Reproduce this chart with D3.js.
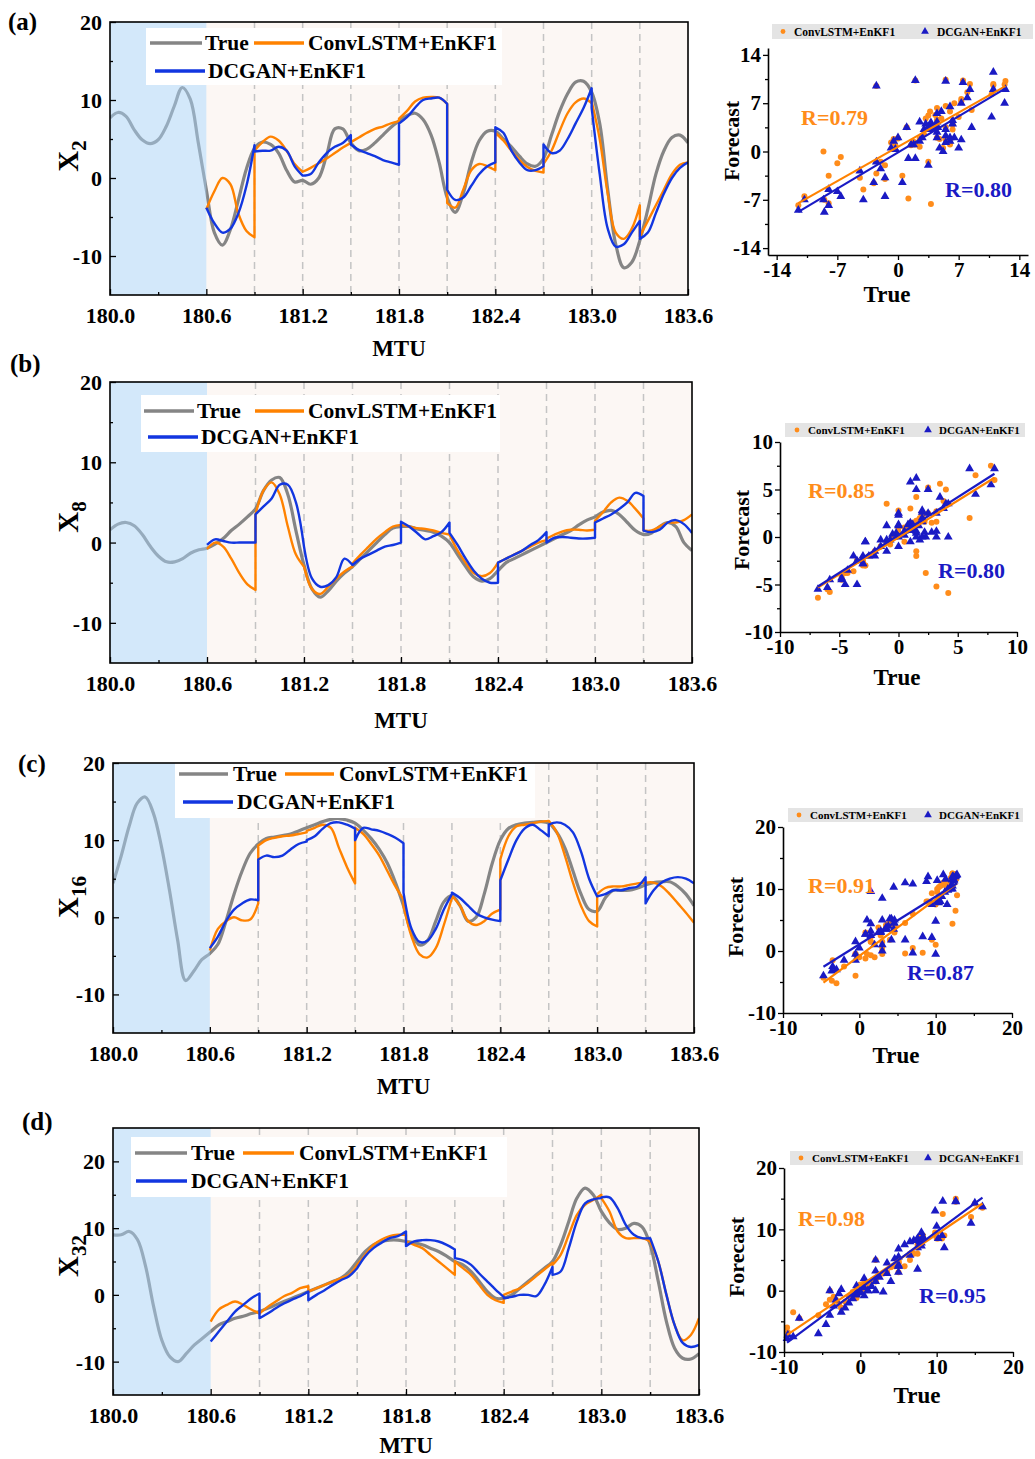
<!DOCTYPE html>
<html>
<head>
<meta charset="utf-8">
<title>Forecast comparison</title>
<script src="https://cdn.jsdelivr.net/npm/d3@7"></script>
<style>
  html, body { margin: 0; padding: 0; background: #fff; }
  svg { display: block; }
  text { font-family: "Liberation Serif", "Times New Roman", serif; font-weight: bold; }
</style>
</head>
<body>
<svg id="fig" width="1035" height="1459"></svg>
<script>
(function () {
  'use strict';

  /* ---------- Time grid ---------- */
  const T_START = 180.0, T_END = 183.6, DT = 0.05;
  const FC_START = 180.6, WIN = 0.3;
  const mtuTicks = [180.0, 180.6, 181.2, 181.8, 182.4, 183.0, 183.6];
  const mtuMinor = [180.3, 180.9, 181.5, 182.1, 182.7, 183.3];
  const assimTimes = [180.9, 181.2, 181.5, 181.8, 182.1, 182.4, 182.7, 183.0, 183.3];

  const seriesNames = ['True', 'ConvLSTM+EnKF1', 'DCGAN+EnKF1'];
  const panelTags = ['(a)', '(b)', '(c)', '(d)'];
  const varSubs = ['2', '8', '16', '32'];
  const rLabels = [['R=0.79', 'R=0.80'], ['R=0.85', 'R=0.80'], ['R=0.91', 'R=0.87'], ['R=0.98', 'R=0.95']];

  /* ---------- Data: true state, every 0.05 MTU from 180.0 ---------- */
  const trueX2 = [7.7, 8.4, 7.9, 6.2, 4.9, 4.4, 4.9, 6.6, 9.2, 11.6, 10.1, 4.5, -1.5,
    -7.0, -8.6, -6.6, -2.8, 1.2, 3.8,
    4.6, 4.3, 3.2, 1.0, -0.5, -0.3,
    -0.8, 0.0, 3.0, 6.3, 6.3, 4.5,
    3.5, 3.7, 4.5, 5.5, 6.5, 7.3,
    8.0, 8.3, 7.5, 5.5, 2.0, -2.5,
    -4.4, -2.0, 2.0, 4.8, 6.0, 6.0,
    5.0, 4.0, 2.8, 1.8, 1.5, 2.5,
    5.5, 8.5, 10.8, 12.3, 12.4, 11.0,
    7.0, -1.5, -8.5, -11.5, -10.8, -8.0,
    -4.0, 0.5, 3.5, 5.2, 5.5, 4.5];
  const trueX8 = [1.6, 2.3, 2.5, 2.1, 1.0, -0.5, -1.7, -2.4, -2.4, -2.0, -1.3, -0.9, -0.7,
    -0.2, 0.5, 1.5, 2.3, 3.2, 4.2,
    6.5, 7.8, 8.1, 6.0, 1.5, -2.8,
    -5.8, -6.8, -6.0, -4.8, -3.8, -3.0,
    -2.0, -1.0, 0.0, 1.0, 1.8, 2.0,
    2.0, 1.7, 1.5, 1.3, 0.8, 0.0,
    -1.5, -3.0, -4.3, -4.8, -4.5, -3.5,
    -2.5, -2.0, -1.5, -1.0, -0.5, 0.0,
    0.5, 1.0, 1.5, 2.2, 2.8, 3.2,
    3.8, 4.0, 3.5, 2.5, 1.5, 1.0,
    1.2, 2.0, 2.5, 2.0, 0.0, -1.0];
  const trueX16 = [4.4, 7.9, 11.8, 14.8, 15.6, 13.5, 9.2, 3.5, -2.9, -8.2, -7.0, -5.5, -4.7,
    -3.5, -0.5, 3.0, 6.0, 8.3, 9.5,
    10.2, 10.4, 10.6, 10.8, 11.2, 11.6,
    12.0, 12.4, 12.7, 12.8, 12.6, 12.2,
    11.3, 10.2, 8.8, 7.0, 4.5, 1.5,
    -2.0, -3.6, -3.0, -0.5, 2.0, 2.8,
    1.5, -0.5, 0.0, 3.0, 7.0, 10.0,
    11.5, 12.0, 12.2, 12.3, 12.4, 12.2,
    11.0, 9.0, 6.0, 3.0, 1.0, 0.8,
    2.5, 3.5, 3.5, 3.5, 3.8, 4.2,
    4.5, 4.6, 4.6, 4.0, 3.0, 1.5];
  const trueX32 = [9.0, 9.0, 9.5, 8.3, 4.3, -1.8, -6.8, -9.3, -10.0, -8.8, -7.5, -6.5, -5.5,
    -4.5, -4.0, -3.5, -3.2, -2.8, -2.5,
    -2.0, -1.5, -1.0, -0.5, 0.0, 0.5,
    1.0, 1.5, 2.0, 2.5, 3.5, 5.0,
    6.5, 7.5, 8.0, 8.2, 8.2, 8.0,
    7.8, 7.5, 7.0, 6.5, 5.8, 5.0,
    4.5, 3.5, 2.0, 0.5, -0.5, -0.5,
    0.0, 1.0, 2.0, 3.0, 4.0, 5.0,
    7.5, 11.0, 14.5, 16.0, 15.0, 12.5,
    10.8, 9.8, 10.0, 10.7, 10.2, 7.5,
    2.0, -4.0, -8.0, -9.5, -9.6, -8.8];

  /* ---------- Data: forecasts, one row per 0.3 MTU window (7 samples each) ---------- */
  const convX2 = [
    [-4.0, -1.7, 0.0, -0.8, -4.6, -6.8, -7.6],
    [3.5, 4.6, 5.3, 4.8, 3.5, 1.8, 0.8],
    [0.8, 1.3, 1.9, 2.5, 3.2, 3.9, 4.5],
    [4.6, 5.2, 5.8, 6.3, 6.6, 7.0, 7.3],
    [7.6, 8.6, 9.8, 10.3, 10.4, 10.3, 9.5],
    [-3.2, -3.8, -1.5, 1.0, 1.8, 1.5, 1.0],
    [5.8, 4.8, 3.5, 2.3, 1.4, 0.9, 0.7],
    [1.8, 3.5, 6.0, 8.3, 9.7, 10.2, 9.6],
    [9.8, 5.0, -2.0, -7.0, -7.8, -6.5, -3.5],
    [-7.5, -5.5, -3.5, -1.5, 0.5, 1.7, 2.0]];
  const dcganX2 = [
    [-3.8, -5.8, -7.0, -6.5, -4.5, -1.0, 4.2],
    [3.4, 3.5, 3.5, 4.0, 3.5, 1.5, 0.3],
    [0.3, 0.5, 2.0, 3.2, 4.0, 4.5, 5.5],
    [4.3, 3.6, 3.2, 2.8, 2.3, 2.0, 1.7],
    [7.0, 7.8, 9.0, 10.0, 10.2, 10.3, 9.5],
    [-1.5, -2.8, -2.5, -1.0, 0.5, 1.5, 2.0],
    [6.5, 5.8, 3.5, 2.0, 1.0, 1.0, 1.5],
    [4.3, 3.2, 3.5, 5.0, 7.0, 9.0, 11.5],
    [9.0, 0.5, -6.5, -8.8, -8.5, -7.0, -5.5],
    [-7.8, -7.0, -4.5, -2.0, 0.0, 1.3, 2.0]];

  const convX8 = [
    [-0.8, 0.0, -0.5, -2.0, -3.8, -5.2, -5.9],
    [3.5, 6.5, 7.5, 6.0, 2.0, -1.5, -3.0],
    [-3.0, -5.8, -6.4, -5.5, -4.5, -3.6, -3.0],
    [-2.6, -1.5, -0.5, 0.5, 1.3, 2.0, 2.2],
    [2.2, 2.0, 1.8, 1.7, 1.5, 1.2, 1.0],
    [1.0, -1.0, -2.5, -3.8, -4.2, -3.8, -2.5],
    [-2.5, -2.0, -1.5, -1.0, -0.5, 0.0, 0.3],
    [0.5, 1.0, 1.4, 1.6, 1.6, 1.5, 1.6],
    [2.7, 3.8, 5.0, 5.6, 5.2, 4.2, 3.0],
    [1.5, 1.5, 2.0, 2.5, 2.5, 2.8, 3.5]];
  const dcganX8 = [
    [-0.3, 0.4, 0.2, 0.0, 0.0, 0.0, 0.0],
    [3.5, 4.5, 5.5, 7.2, 7.2, 5.0, -0.5],
    [-0.5, -4.5, -5.5, -5.3, -4.3, -2.0, -2.8],
    [-2.8, -2.0, -1.5, -1.0, -0.5, -0.3, 0.0],
    [2.6, 2.0, 1.2, 0.4, 0.8, 1.3, 2.5],
    [1.2, -0.3, -2.0, -3.5, -4.5, -5.0, -5.0],
    [-2.5, -2.0, -1.5, -1.0, -0.3, 0.3, 1.3],
    [0.0, 0.6, 0.7, 0.6, 0.5, 0.5, 0.6],
    [2.5, 3.0, 3.5, 4.2, 5.0, 6.2, 5.8],
    [1.5, 1.3, 1.6, 2.5, 2.8, 2.3, 1.2]];

  const convX16 = [
    [-4.3, -1.5, -0.5, 0.0, -0.4, -0.3, 1.8],
    [9.3, 10.0, 10.3, 10.5, 10.6, 10.8, 11.0],
    [11.2, 11.6, 12.0, 11.6, 9.0, 6.5, 4.4],
    [11.6, 10.8, 9.5, 8.0, 6.0, 4.0, 2.3],
    [1.5, -2.5, -4.8, -5.2, -4.0, -1.0, 2.5],
    [2.8, 1.5, -0.5, -1.0, -0.5, 0.5, 1.0],
    [7.5, 10.5, 11.8, 12.0, 12.2, 12.4, 12.5],
    [12.5, 11.0, 8.0, 4.5, 1.5, -0.5, -1.2],
    [3.0, 3.8, 4.0, 4.0, 4.2, 4.4, 4.5],
    [4.5, 4.5, 4.0, 3.0, 1.8, 0.6, -0.7]];
  const dcganX16 = [
    [-4.0, -2.5, -0.5, 1.0, 1.8, 2.3, 2.2],
    [7.5, 8.0, 7.8, 8.0, 8.8, 9.5, 9.8],
    [10.0, 10.5, 11.5, 12.2, 12.3, 12.0, 11.5],
    [10.0, 11.6, 11.4, 11.2, 10.8, 10.3, 9.6],
    [3.2, -1.5, -3.2, -3.0, -1.5, 1.0, 3.0],
    [3.2, 2.5, 1.5, 0.5, 0.0, -0.3, -0.5],
    [4.8, 7.5, 10.0, 11.5, 12.0, 11.3, 10.5],
    [12.0, 12.3, 12.0, 11.0, 8.5, 5.0, 2.7],
    [2.7, 3.0, 3.5, 3.5, 3.8, 4.0, 5.2],
    [1.8, 3.5, 4.5, 5.0, 5.2, 5.0, 4.4]];

  const convX32 = [
    [-4.0, -2.2, -1.5, -1.0, -1.5, -2.2, -2.8],
    [-2.8, -1.8, -1.0, -0.2, 0.3, 1.0, 1.3],
    [0.5, 1.0, 1.5, 2.0, 2.5, 3.0, 4.5],
    [4.5, 6.0, 7.5, 8.3, 8.8, 9.0, 9.0],
    [8.0, 7.5, 7.0, 6.0, 5.0, 4.0, 3.0],
    [5.0, 4.0, 3.0, 1.5, 0.0, -0.8, -1.2],
    [0.0, 0.5, 1.0, 1.8, 2.8, 3.8, 4.8],
    [4.5, 6.0, 9.0, 12.0, 13.5, 14.2, 15.0],
    [14.5, 12.5, 9.5, 8.5, 8.5, 8.5, 8.0],
    [8.0, 5.0, 0.0, -4.5, -6.8, -6.0, -3.5]];
  const dcganX32 = [
    [-7.0, -5.5, -4.0, -2.5, -1.5, -0.5, 0.2],
    [-3.5, -2.8, -2.0, -1.3, -0.7, -0.2, 0.5],
    [-0.8, 0.0, 0.7, 1.5, 2.2, 2.8, 4.0],
    [4.0, 5.8, 7.0, 7.8, 8.5, 8.8, 9.5],
    [7.3, 8.0, 8.2, 8.2, 8.0, 7.5, 6.8],
    [5.5, 5.2, 4.5, 3.2, 2.0, 0.8, -0.3],
    [-0.5, -0.3, 0.0, 0.0, -0.2, 1.5, 4.2],
    [3.0, 3.5, 7.0, 11.0, 13.7, 14.3, 14.5],
    [14.6, 14.6, 13.0, 10.5, 9.0, 8.5, 8.5],
    [8.5, 5.0, 0.0, -4.5, -7.2, -7.8, -7.5]];

  const panelData = [
    { truth: trueX2, conv: convX2, dcgan: dcganX2 },
    { truth: trueX8, conv: convX8, dcgan: dcganX8 },
    { truth: trueX16, conv: convX16, dcgan: dcganX16 },
    { truth: trueX32, conv: convX32, dcgan: dcganX32 }
  ];

  /* ---------- Colours ---------- */
  const col = {
    truth: '#858585',
    conv: '#ff8200',
    dcgan: '#1236e0',
    sConv: '#ff8c1a',
    sDcgan: '#1a1ac4',
    cream: '#fcf7f4',
    shade: 'rgba(168,210,246,0.5)',
    dash: '#c4c4c4',
    legBg: '#e4e4e4'
  };
  const FONT = '"Liberation Serif","Times New Roman",serif';

  /* ---------- Layout ---------- */
  const layout = [
    { l: 110, r: 688, t: 22, b: 295, yDom: [-15, 20], yTicks: [-10, 0, 10, 20], yMinor: [-5, 5, 15],
      tag: [8, 30], ylab: [70, 156], mtu: 356,
      leg: { x: 146, y: 28, w: 356, h: 57, r1: 43, r2: 71, g: [150, 202], gt: 205, o: [254, 304], ot: 308, b: [155, 205], bt: 208 },
      sc: { x: [768, 1028], y: [255, 48], dom: [-15, 15], tk: [-14, -7, 0, 7, 14], mn: [-10.5, -3.5, 3.5, 10.5],
        fc: [732, 141], tr: [887, 302], r1: [801, 125], r2: [945, 197],
        leg: { x: 772, y: 24, w: 261, h: 15, dot: 783, t1: 794, tri: 925, t2: 937, fs: 11.5 } } },
    { l: 110, r: 692, t: 382, b: 663, yDom: [-15, 20], yTicks: [-10, 0, 10, 20], yMinor: [-5, 5, 15],
      tag: [10, 372], ylab: [70, 517], mtu: 728,
      leg: { x: 141, y: 395, w: 359, h: 57, r1: 411, r2: 437, g: [144, 194], gt: 197, o: [255, 304], ot: 308, b: [148, 198], bt: 201 },
      sc: { x: [780, 1017], y: [632, 442], dom: [-10, 10], tk: [-10, -5, 0, 5, 10], mn: [-7.5, -2.5, 2.5, 7.5],
        fc: [742, 530], tr: [897, 685], r1: [808, 498], r2: [938, 578],
        leg: { x: 785, y: 423, w: 240, h: 14, dot: 797, t1: 808, tri: 928, t2: 939, fs: 11 } } },
    { l: 113, r: 694, t: 763, b: 1033, yDom: [-15, 20], yTicks: [-10, 0, 10, 20], yMinor: [-5, 5, 15],
      tag: [18, 772], ylab: [70, 897], mtu: 1094,
      leg: { x: 175, y: 763, w: 360, h: 55, r1: 774, r2: 802, g: [179, 228], gt: 233, o: [285, 334], ot: 339, b: [183, 233], bt: 237 },
      sc: { x: [783, 1012], y: [1013, 827], dom: [-10, 20], tk: [-10, 0, 10, 20], mn: [-5, 5, 15],
        fc: [736, 917], tr: [896, 1063], r1: [808, 893], r2: [907, 980],
        leg: { x: 788, y: 808, w: 235, h: 14, dot: 799, t1: 810, tri: 928, t2: 939, fs: 11 } } },
    { l: 113, r: 699, t: 1128, b: 1395, yDom: [-15, 25], yTicks: [-10, 0, 10, 20], yMinor: [-5, 5, 15],
      tag: [22, 1130], ylab: [70, 1256], mtu: 1453,
      leg: { x: 131, y: 1137, w: 376, h: 60, r1: 1153, r2: 1181, g: [135, 187], gt: 191, o: [243, 294], ot: 299, b: [136, 187], bt: 191 },
      sc: { x: [784, 1013], y: [1352, 1168], dom: [-10, 20], tk: [-10, 0, 10, 20], mn: [-5, 5, 15],
        fc: [737, 1257], tr: [917, 1403], r1: [798, 1226], r2: [919, 1303],
        leg: { x: 790, y: 1151, w: 233, h: 14, dot: 801, t1: 812, tri: 928, t2: 939, fs: 11 } } }
  ];

  const svg = d3.select('#fig');
  const defs = svg.append('defs');

  /* ---------- Helpers ---------- */
  const fcIndex0 = Math.round((FC_START - T_START) / DT);
  const stepsPerWin = Math.round(WIN / DT);

  // forecast windows joined into one path, vertical jump at each analysis time
  function windowPath(x, y, wins) {
    const gen = d3.line().x(d => x(d[0])).y(d => y(d[1])).curve(d3.curveCatmullRom.alpha(0.5));
    return wins.map((w, k) => {
      const s = gen(w.map((v, j) => [FC_START + WIN * k + DT * j, v]));
      return k === 0 ? s : 'L' + s.slice(1);
    }).join('');
  }

  // (true, forecast) pairs at the forecast sample times
  function pairUp(truth, wins) {
    const out = [];
    wins.forEach((w, k) => w.forEach((v, j) => out.push([truth[fcIndex0 + stepsPerWin * k + j], v])));
    return out;
  }

  function fit(pts) {
    const mx = d3.mean(pts, d => d[0]), my = d3.mean(pts, d => d[1]);
    let sxy = 0, sxx = 0;
    pts.forEach(d => { sxy += (d[0] - mx) * (d[1] - my); sxx += (d[0] - mx) ** 2; });
    const m = sxy / sxx, c = my - m * mx;
    const x0 = d3.min(pts, d => d[0]), x1 = d3.max(pts, d => d[0]);
    return [[x0, m * x0 + c], [x1, m * x1 + c]];
  }

  function styleAxis(sel, size) {
    sel.attr('font-family', FONT).attr('font-size', size).attr('font-weight', 'bold');
    sel.selectAll('text').attr('fill', '#000');
  }

  /* ---------- Time-series panels ---------- */
  function drawSeries(i) {
    const L = layout[i], D = panelData[i];
    const x = d3.scaleLinear().domain([T_START, T_END]).range([L.l, L.r]);
    const y = d3.scaleLinear().domain(L.yDom).range([L.b, L.t]);
    const g = svg.append('g');

    const clipId = 'clip-' + i;
    defs.append('clipPath').attr('id', clipId).append('rect')
      .attr('x', L.l).attr('y', L.t).attr('width', L.r - L.l).attr('height', L.b - L.t);

    // forecast period background
    g.append('rect')
      .attr('x', x(FC_START)).attr('y', L.t)
      .attr('width', x(T_END) - x(FC_START)).attr('height', L.b - L.t)
      .attr('fill', col.cream);

    // analysis times
    g.append('g').selectAll('line').data(assimTimes).join('line')
      .attr('x1', d => x(d)).attr('x2', d => x(d))
      .attr('y1', L.t).attr('y2', L.b)
      .attr('stroke', col.dash).attr('stroke-width', 1.5).attr('stroke-dasharray', '7,5');

    const plot = g.append('g').attr('clip-path', `url(#${clipId})`);

    const trueLine = d3.line()
      .x((d, k) => x(T_START + k * DT)).y(d => y(d))
      .curve(d3.curveCatmullRom.alpha(0.5));
    plot.append('path').attr('d', trueLine(D.truth))
      .attr('fill', 'none').attr('stroke', col.truth).attr('stroke-width', 3.2);

    // spin-up shading (laid over the true curve)
    plot.append('rect')
      .attr('x', x(T_START)).attr('y', L.t)
      .attr('width', x(FC_START) - x(T_START)).attr('height', L.b - L.t)
      .attr('fill', col.shade);

    plot.append('path').attr('d', windowPath(x, y, D.conv))
      .attr('fill', 'none').attr('stroke', col.conv).attr('stroke-width', 2.4)
      .attr('stroke-linejoin', 'round');
    plot.append('path').attr('d', windowPath(x, y, D.dcgan))
      .attr('fill', 'none').attr('stroke', col.dcgan).attr('stroke-width', 2.4)
      .attr('stroke-linejoin', 'round');

    // legend
    const lg = L.leg;
    const leg = g.append('g');
    leg.append('rect').attr('x', lg.x).attr('y', lg.y).attr('width', lg.w).attr('height', lg.h).attr('fill', '#fff');
    const items = [
      { c: col.truth, seg: lg.g, tx: lg.gt, ry: lg.r1, name: seriesNames[0] },
      { c: col.conv, seg: lg.o, tx: lg.ot, ry: lg.r1, name: seriesNames[1] },
      { c: col.dcgan, seg: lg.b, tx: lg.bt, ry: lg.r2, name: seriesNames[2] }
    ];
    items.forEach(it => {
      leg.append('line').attr('x1', it.seg[0]).attr('x2', it.seg[1]).attr('y1', it.ry).attr('y2', it.ry)
        .attr('stroke', it.c).attr('stroke-width', 3.4);
      leg.append('text').attr('x', it.tx).attr('y', it.ry + 7).attr('font-size', 21.5).text(it.name);
    });

    // frame
    g.append('rect').attr('x', L.l).attr('y', L.t).attr('width', L.r - L.l).attr('height', L.b - L.t)
      .attr('fill', 'none').attr('stroke', '#000').attr('stroke-width', 1.6);

    // axes
    const xa = g.append('g').attr('transform', `translate(0,${L.b})`)
      .call(d3.axisBottom(x).tickValues(mtuTicks).tickFormat(d3.format('.1f')).tickSize(-6).tickSizeOuter(0).tickPadding(12));
    const xm = g.append('g').attr('transform', `translate(0,${L.b})`)
      .call(d3.axisBottom(x).tickValues(mtuMinor).tickFormat('').tickSize(-3).tickSizeOuter(0));
    const ya = g.append('g').attr('transform', `translate(${L.l},0)`)
      .call(d3.axisLeft(y).tickValues(L.yTicks).tickFormat(d => String(d)).tickSize(-6).tickSizeOuter(0).tickPadding(8));
    const ym = g.append('g').attr('transform', `translate(${L.l},0)`)
      .call(d3.axisLeft(y).tickValues(L.yMinor).tickFormat('').tickSize(-3).tickSizeOuter(0));
    [xa, xm, ya, ym].forEach(a => {
      a.select('.domain').remove();
      a.selectAll('line').attr('stroke', '#000').attr('stroke-width', 1.3);
      styleAxis(a, 22);
    });
    ya.selectAll('text').attr('dy', '0.34em');

    // labels
    g.append('text').attr('x', L.tag[0]).attr('y', L.tag[1]).attr('font-size', 25).text(panelTags[i]);
    g.append('text').attr('x', (L.l + L.r) / 2).attr('y', L.mtu).attr('text-anchor', 'middle')
      .attr('font-size', 23).text('MTU');
    const yl = g.append('text')
      .attr('transform', `translate(${L.ylab[0] + 8},${L.ylab[1]}) rotate(-90)`)
      .attr('text-anchor', 'middle');
    yl.append('tspan').attr('font-size', 29).text('X');
    yl.append('tspan').attr('font-size', 21).attr('dy', 8).text(varSubs[i]);
  }

  /* ---------- Scatter panels ---------- */
  function drawScatter(i) {
    const S = layout[i].sc, D = panelData[i];
    const x = d3.scaleLinear().domain(S.dom).range(S.x);
    const y = d3.scaleLinear().domain(S.dom).range(S.y);
    const g = svg.append('g');

    const convPts = pairUp(D.truth, D.conv);
    const dcPts = pairUp(D.truth, D.dcgan);

    // legend strip
    const lg = S.leg;
    g.append('rect').attr('x', lg.x).attr('y', lg.y).attr('width', lg.w).attr('height', lg.h).attr('fill', col.legBg);
    g.append('circle').attr('cx', lg.dot).attr('cy', lg.y + lg.h / 2).attr('r', 2.4).attr('fill', col.sConv);
    g.append('text').attr('x', lg.t1).attr('y', lg.y + lg.h - 3.5).attr('font-size', lg.fs).text(seriesNames[1]);
    g.append('path').attr('d', d3.symbol().type(d3.symbolTriangle).size(26)())
      .attr('transform', `translate(${lg.tri},${lg.y + lg.h / 2})`).attr('fill', col.sDcgan);
    g.append('text').attr('x', lg.t2).attr('y', lg.y + lg.h - 3.5).attr('font-size', lg.fs).text(seriesNames[2]);

    // points
    g.append('g').selectAll('circle').data(convPts).join('circle')
      .attr('cx', d => x(d[0])).attr('cy', d => y(d[1])).attr('r', 3).attr('fill', col.sConv);
    const tri = d3.symbol().type(d3.symbolTriangle).size(34);
    g.append('g').selectAll('path').data(dcPts).join('path')
      .attr('d', tri).attr('transform', d => `translate(${x(d[0])},${y(d[1])})`).attr('fill', col.sDcgan);

    // fitted lines
    const ln = d3.line().x(d => x(d[0])).y(d => y(d[1]));
    g.append('path').attr('d', ln(fit(convPts))).attr('stroke', col.conv).attr('stroke-width', 2.2).attr('fill', 'none');
    g.append('path').attr('d', ln(fit(dcPts))).attr('stroke', col.sDcgan).attr('stroke-width', 2.2).attr('fill', 'none');

    // axes
    const xa = g.append('g').attr('transform', `translate(0,${S.y[0]})`)
      .call(d3.axisBottom(x).tickValues(S.tk).tickFormat(d => String(d)).tickSize(5).tickSizeOuter(0).tickPadding(2));
    const xm = g.append('g').attr('transform', `translate(0,${S.y[0]})`)
      .call(d3.axisBottom(x).tickValues(S.mn).tickFormat('').tickSize(3).tickSizeOuter(0));
    const ya = g.append('g').attr('transform', `translate(${S.x[0]},0)`)
      .call(d3.axisLeft(y).tickValues(S.tk).tickFormat(d => String(d)).tickSize(5).tickSizeOuter(0).tickPadding(2));
    const ym = g.append('g').attr('transform', `translate(${S.x[0]},0)`)
      .call(d3.axisLeft(y).tickValues(S.mn).tickFormat('').tickSize(3).tickSizeOuter(0));
    [xm, ym].forEach(a => a.select('.domain').remove());
    [xa, xm, ya, ym].forEach(a => {
      a.selectAll('line').attr('stroke', '#000').attr('stroke-width', 1.3);
      a.select('.domain').attr('stroke', '#000').attr('stroke-width', 1.6);
      styleAxis(a, 21);
    });

    // titles and R values
    g.append('text').attr('transform', `translate(${S.fc[0] + 7},${S.fc[1]}) rotate(-90)`)
      .attr('text-anchor', 'middle').attr('font-size', 22).text('Forecast');
    g.append('text').attr('x', S.tr[0]).attr('y', S.tr[1]).attr('text-anchor', 'middle')
      .attr('font-size', 23).text('True');
    g.append('text').attr('x', S.r1[0]).attr('y', S.r1[1]).attr('font-size', 22)
      .attr('fill', col.sConv).text(rLabels[i][0]);
    g.append('text').attr('x', S.r2[0]).attr('y', S.r2[1]).attr('font-size', 22)
      .attr('fill', col.sDcgan).text(rLabels[i][1]);
  }

  for (let i = 0; i < layout.length; i++) {
    drawSeries(i);
    drawScatter(i);
  }
})();
</script>
</body>
</html>
